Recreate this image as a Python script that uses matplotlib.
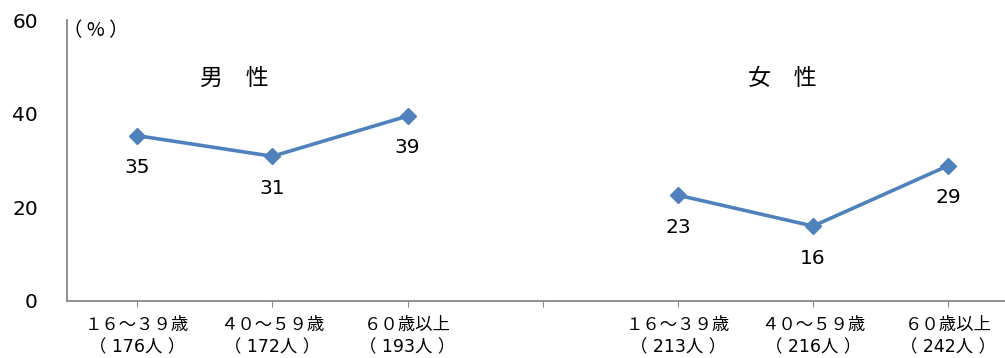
import matplotlib
matplotlib.use('Agg')
import matplotlib.pyplot as plt

plt.rcParams['font.family'] = ['Noto Sans CJK JP', 'DejaVu Sans']

# values (%)
male_vals = [35.3, 30.9, 39.5]
female_vals = [22.6, 16.0, 28.9]
male_labels = ['35', '31', '39']
female_labels = ['23', '16', '29']
age_groups = ['１６～３９歳', '４０～５９歳', '６０歳以上']
male_n = ['176', '172', '193']
female_n = ['213', '216', '242']

male_x = [0, 1, 2]
female_x = [4, 5, 6]
blue = '#4F81BD'

fig = plt.figure(figsize=(10.05, 3.58), dpi=100)
ax = fig.add_axes([67 / 1005, 57 / 358, 1 - 67 / 1005, 281 / 358])

for xs, vals, labels in [(male_x, male_vals, male_labels), (female_x, female_vals, female_labels)]:
    ax.plot(xs, vals, color=blue, lw=2.6, marker='D', ms=8.5, mfc=blue, mec=blue)
    for x, v, t in zip(xs, vals, labels):
        ax.annotate(t, (x, v), xytext=(0, -23), textcoords='offset points',
                    ha='center', va='center', fontsize=14.5, family='DejaVu Sans')

ax.text(0.72, 47.6, '男　性', ha='center', va='center', fontsize=16.5)
ax.text(4.77, 47.6, '女　性', ha='center', va='center', fontsize=16.5)
ax.text(-0.55, 57.8, '（ % ）', ha='left', va='center', fontsize=14)

ax.set_xlim(-0.52, 6.42)
ax.set_ylim(0, 60)
ax.set_xticks(range(7))
ticklabels = [f'{a}\n（ {n}人 ）' for a, n in zip(age_groups, male_n)] + [''] + \
             [f'{a}\n（ {n}人 ）' for a, n in zip(age_groups, female_n)]
ax.set_xticklabels(ticklabels, fontsize=12.5, linespacing=1.3,
                   family=['DejaVu Sans', 'Noto Sans CJK JP'])
ax.set_yticks([0, 20, 40, 60])
ax.set_yticklabels(['0', '20', '40', '60'], fontsize=14.5, family='DejaVu Sans')

ax.tick_params(axis='x', length=4, color='#888888', pad=7)
ax.tick_params(axis='y', length=0, pad=21)
for s in ['top', 'right']:
    ax.spines[s].set_visible(False)
for s in ['left', 'bottom']:
    ax.spines[s].set_color('#888888')
    ax.spines[s].set_linewidth(1.3)

fig.savefig('out.png', dpi=100)
